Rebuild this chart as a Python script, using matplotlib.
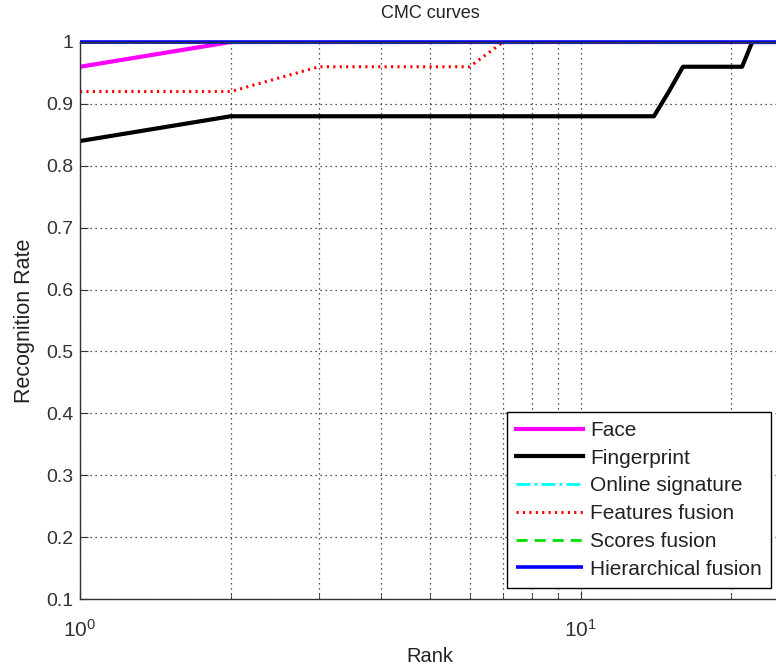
import matplotlib
matplotlib.use("Agg")
import matplotlib.pyplot as plt
from matplotlib.ticker import NullFormatter, FixedLocator
import numpy as np

plt.rcParams['font.family'] = ['Liberation Sans', 'DejaVu Sans']
plt.rcParams['mathtext.fontset'] = 'custom'
plt.rcParams['mathtext.rm'] = 'Liberation Sans'
plt.rcParams['mathtext.it'] = 'Liberation Sans:italic'
plt.rcParams['mathtext.bf'] = 'Liberation Sans:bold'

rank = list(range(1, 26))
face = [0.96] + [1.0] * 24
fingerprint = [0.84] + [0.88] * 13 + [0.92] + [0.96] * 6 + [1.0] * 4
online_sig = [1.0] * 25
features = [0.92, 0.92, 0.96, 0.96, 0.96, 0.96] + [1.0] * 19
scores = [1.0] * 25
hierarchical = [1.0] * 25

W, H = 776, 671
fig = plt.figure(figsize=(W / 100, H / 100), dpi=100)
ax = fig.add_axes([80 / W, (H - 599) / H, 700 / W, (599 - 42) / H])

ax.plot(rank, face, color='magenta', lw=3, label='Face')
ax.plot(rank, fingerprint, color='black', lw=3, label='Fingerprint')
ax.plot(rank, online_sig, color='cyan', lw=2, ls=(0, (5, 1.5, 1, 1.5)), label='Online signature')
ax.plot(rank, features, color='red', lw=2.2, ls=(0, (0.7, 1.4)), label='Features fusion')
ax.plot(rank, scores, color='#00dd00', lw=2, ls=(0, (4, 2.5)), label='Scores fusion')
ax.plot(rank, hierarchical, color='blue', lw=2.6, label='Hierarchical fusion',
        clip_on=False, zorder=5, solid_capstyle='butt')

ax.set_xscale('log')
ax.set_xlim(1, 25)
ax.set_ylim(0.1, 1.0)
ax.set_yticks(np.arange(0.1, 1.01, 0.1))
ax.set_yticklabels(['0.1', '0.2', '0.3', '0.4', '0.5', '0.6', '0.7', '0.8', '0.9', '1'])
ax.xaxis.set_major_locator(FixedLocator([1, 10]))
ax.xaxis.set_minor_locator(FixedLocator([2, 3, 4, 5, 6, 7, 8, 9, 20]))
ax.xaxis.set_minor_formatter(NullFormatter())
ax.set_xticklabels([r'$\mathregular{10^{0}}$', r'$\mathregular{10^{1}}$'])
ax.grid(True, which='both', axis='x', color='#222222', ls=(0, (1, 3)), lw=0.9)
ax.grid(True, which='major', axis='y', color='#222222', ls=(0, (1, 3)), lw=0.9)
ax.tick_params(which='both', direction='in', labelsize=14, colors='#333333', top=False, right=False)
ax.tick_params(axis='y', pad=5)
ax.tick_params(axis='x', pad=14, labelsize=15)
ax.tick_params(which='major', length=6)
ax.tick_params(which='minor', length=4)
for s in ax.spines.values():
    s.set_color('#333333')
    s.set_linewidth(1)
    s.set_zorder(6)

ax.set_title('CMC curves', fontsize=13, color='#222222', pad=17)
ax.set_xlabel('Rank', fontsize=14.5, color='#222222', labelpad=5)
ax.set_ylabel('Recognition Rate', fontsize=15.5, color='#222222', labelpad=8)

leg = ax.legend(loc='lower right', bbox_to_anchor=(771 / W, (H - 588) / H),
                bbox_transform=fig.transFigure, borderaxespad=0,
                fontsize=15, fancybox=False, framealpha=1, edgecolor='black',
                handlelength=3.2, borderpad=0.45, labelspacing=0.42, handletextpad=0.35)
leg.set_zorder(10)
leg.get_frame().set_linewidth(1)
for t in leg.get_texts():
    t.set_color('#222222')

fig.savefig('out.png', dpi=100)
